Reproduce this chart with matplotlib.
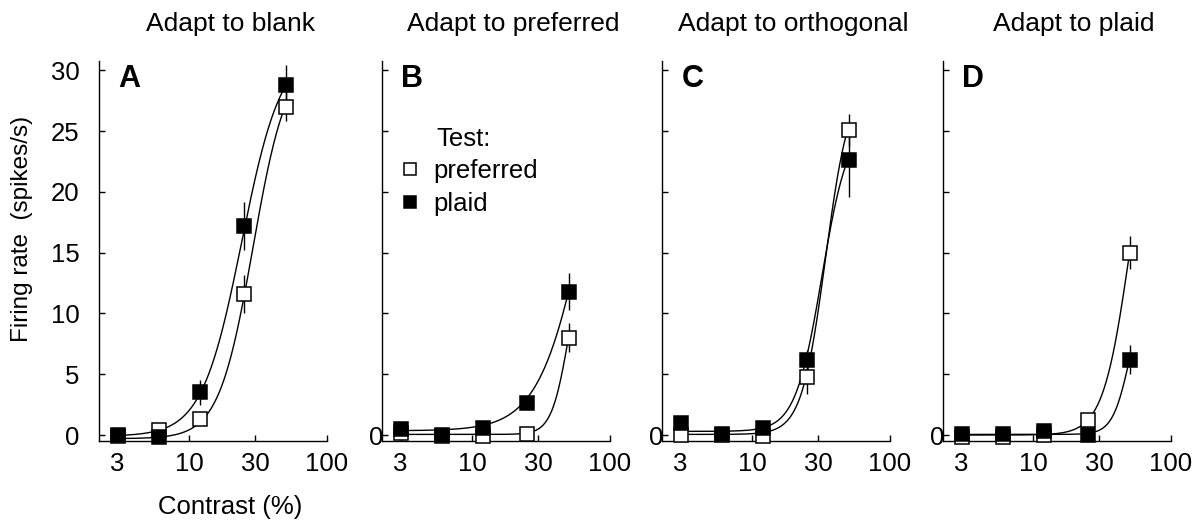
import numpy as np
import matplotlib
matplotlib.use("Agg")
import matplotlib.pyplot as plt
from matplotlib.lines import Line2D

plt.rcParams['font.family'] = ['Liberation Sans', 'DejaVu Sans']

# ---------------- data ----------------
contrast = [3, 6, 12, 25, 50]
titles = ["Adapt to blank", "Adapt to preferred", "Adapt to orthogonal", "Adapt to plaid"]
letters = ["A", "B", "C", "D"]

# test: preferred grating (open squares)
pref_A = [-0.1, 0.4, 1.3, 11.6, 27.0]
pref_B = [0.2, -0.1, -0.1, 0.1, 8.0]
pref_C = [0.0, 0.0, -0.1, 4.8, 25.1]
pref_D = [-0.2, -0.2, 0.0, 1.2, 15.0]
pref_err_A = [0.2, 0.2, 0.5, 1.6, 1.2]
pref_err_B = [0.2, 0.2, 0.2, 0.3, 1.2]
pref_err_C = [0.2, 0.2, 0.2, 1.4, 1.3]
pref_err_D = [0.2, 0.2, 0.2, 0.4, 1.35]

# test: plaid (filled squares)
plaid_A = [0.0, -0.2, 3.5, 17.2, 28.8]
plaid_B = [0.5, 0.0, 0.6, 2.6, 11.8]
plaid_C = [1.0, 0.1, 0.6, 6.2, 22.6]
plaid_D = [0.1, 0.1, 0.3, 0.0, 6.2]
plaid_err_A = [0.3, 0.3, 1.0, 2.0, 1.6]
plaid_err_B = [0.2, 0.2, 0.3, 0.5, 1.5]
plaid_err_C = [0.2, 0.2, 0.3, 0.8, 3.0]
plaid_err_D = [0.2, 0.2, 0.2, 0.2, 1.2]

# fitted contrast-response curves: baseline, Rmax, c50, exponent
fit_pref_A = [-0.3, 31.5, 29.0, 3.5]
fit_pref_B = [0.05, 16.0, 50.0, 7.0]
fit_pref_C = [0.05, 29.0, 34.0, 5.0]
fit_pref_D = [0.0, 30.0, 50.0, 4.5]
fit_plaid_A = [-0.1, 32.0, 24.0, 3.0]
fit_plaid_B = [0.35, 38.0, 70.0, 2.5]
fit_plaid_C = [0.3, 25.5, 32.0, 4.5]
fit_plaid_D = [0.05, 12.4, 50.0, 7.0]

x_ticks = [3, 10, 30, 100]
x_ticklabels = ["3", "10", "30", "100"]
y_ticks = [0, 5, 10, 15, 20, 25, 30]

pref = [pref_A, pref_B, pref_C, pref_D]
pref_err = [pref_err_A, pref_err_B, pref_err_C, pref_err_D]
plaid = [plaid_A, plaid_B, plaid_C, plaid_D]
plaid_err = [plaid_err_A, plaid_err_B, plaid_err_C, plaid_err_D]
fit_pref = [fit_pref_A, fit_pref_B, fit_pref_C, fit_pref_D]
fit_plaid = [fit_plaid_A, fit_plaid_B, fit_plaid_C, fit_plaid_D]


def naka_rushton(c, p):
    b, rmax, c50, n = p
    c = np.asarray(c, float)
    return b + rmax * c ** n / (c ** n + c50 ** n)


# ---------------- figure ----------------
W, H = 1204, 521
fig = plt.figure(figsize=(W / 100, H / 100), dpi=100)

lefts = [99, 382, 662, 943]
ax_w = 228
ax_bottom = 80.5
ax_h = 380

tick_fs = 18.5
ms = 10

for i in range(4):
    ax = fig.add_axes([lefts[i] / W, ax_bottom / H, ax_w / W, ax_h / H])
    ax.set_xscale('log')
    ax.set_xlim(2.2, 100)
    ax.set_ylim(-0.45, 30.8)
    for s in ['top', 'right']:
        ax.spines[s].set_visible(False)
    for s in ['left', 'bottom']:
        ax.spines[s].set_linewidth(1.0)

    cc = np.geomspace(contrast[0], contrast[-1], 300)
    ax.plot(cc, naka_rushton(cc, fit_pref[i]), color='black', lw=1.0, zorder=2)
    ax.plot(cc, naka_rushton(cc, fit_plaid[i]), color='black', lw=1.0, zorder=2)

    ax.errorbar(contrast, pref[i], yerr=pref_err[i], fmt='none', ecolor='black',
                elinewidth=1.0, capsize=0, zorder=3)
    ax.errorbar(contrast, plaid[i], yerr=plaid_err[i], fmt='none', ecolor='black',
                elinewidth=1.0, capsize=0, zorder=3)
    ax.plot(contrast, pref[i], linestyle='none', marker='s', ms=ms,
            mfc='white', mec='black', mew=1.1, zorder=4, clip_on=False)
    ax.plot(contrast, plaid[i], linestyle='none', marker='s', ms=ms,
            mfc='black', mec='black', mew=1.1, zorder=5, clip_on=False)

    ax.set_xticks(x_ticks)
    ax.set_xticklabels(x_ticklabels)
    ax.xaxis.set_minor_locator(matplotlib.ticker.NullLocator())
    ax.set_yticks(y_ticks)
    if i == 0:
        ax.set_yticklabels([str(v) for v in y_ticks])
        ax.tick_params(axis='y', pad=14)
    else:
        ax.set_yticklabels(["0"] + [""] * (len(y_ticks) - 1))
        ax.tick_params(axis='y', pad=-1)
    ax.tick_params(axis='both', direction='in', length=4, width=1.0,
                   labelsize=tick_fs)
    ax.tick_params(axis='x', pad=8)

    ax.text(0.575, 1.077, titles[i], transform=ax.transAxes, ha='center',
            va='baseline', fontsize=19)
    ax.text(0.085, 0.93, letters[i], transform=ax.transAxes, ha='left',
            va='baseline', fontsize=22, fontweight='bold')

    if i == 0:
        ax.set_ylabel("Firing rate  (spikes/s)", fontsize=17.5)
        ax.yaxis.set_label_coords(-0.29, 0.556)
        ax.set_xlabel("Contrast (%)", fontsize=18.5)
        ax.xaxis.set_label_coords(0.575, -0.143)

    if i == 1:
        ax.text(0.24, 0.7745, "Test:", transform=ax.transAxes, ha='left',
                va='baseline', fontsize=18.5)
        handles = [Line2D([], [], linestyle='none', marker='s', ms=9,
                          mfc='white', mec='black', mew=1.1),
                   Line2D([], [], linestyle='none', marker='s', ms=9,
                          mfc='black', mec='black', mew=1.1)]
        ax.legend(handles, ["preferred", "plaid"], loc='upper left',
                  bbox_to_anchor=(0.079, 0.740), frameon=False, fontsize=18.5,
                  handlelength=0.8, handletextpad=0.5, labelspacing=0.32,
                  borderpad=0, borderaxespad=0)

fig.savefig("out.png", dpi=100)
